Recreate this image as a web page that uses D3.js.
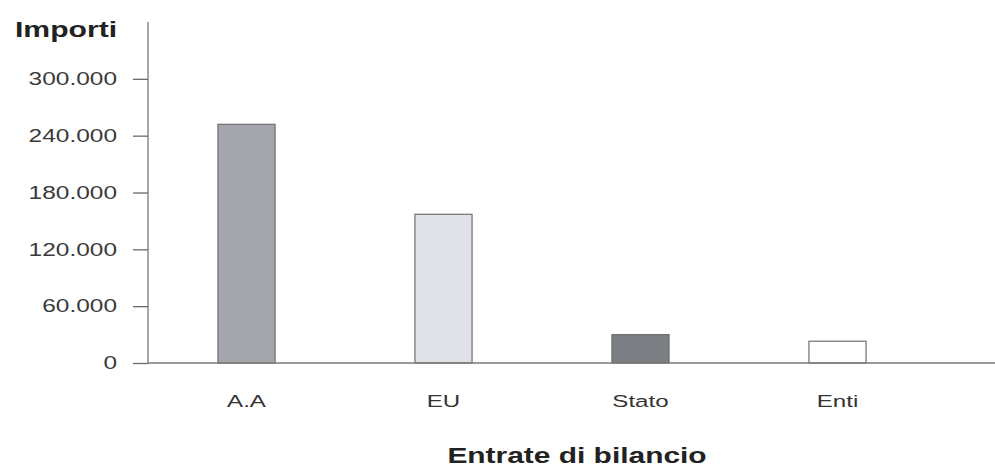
<!DOCTYPE html>
<html><head><meta charset="utf-8">
<script src="https://cdn.jsdelivr.net/npm/d3@7"></script>
<style>body{margin:0;background:#fff}svg{display:block}text{font-family:"Liberation Sans",Arial,sans-serif}</style>
</head><body><svg id="c" width="995" height="468"></svg>
<script>
const categories = ["A.A", "EU", "Stato", "Enti"];
const values = [252000, 157000, 30000, 23000];
const barColors = ["#a3a7ab", "#dfe2e6", "#7b7e83", "#ffffff"];
const yTicks = [0, 60000, 120000, 180000, 240000, 300000];
const yTitle = "Importi";
const xTitle = "Entrate di bilancio";

const svg = d3.select("#c");
const x0 = 148, x1 = 936, yBase = 363, yTop = 22;
const sx = 1.36;
const x = d3.scaleBand().domain(categories).range([x0, x1]).paddingInner(0.71).paddingOuter(0.355);
const y = d3.scaleLinear().domain([0, 360000]).range([yBase, yTop]);
const loc = d3.formatLocale({decimal: ",", thousands: ".", grouping: [3], currency: ["€", ""]});
const fmt = loc.format(",");

// bars
svg.selectAll("rect.bar").data(categories).join("rect")
  .attr("class", "bar")
  .attr("x", d => x(d)).attr("width", x.bandwidth())
  .attr("y", (d, i) => y(values[i])).attr("height", (d, i) => y(0) - y(values[i]))
  .attr("fill", (d, i) => barColors[i])
  .attr("stroke", "#707070").attr("stroke-width", 1.2);

// y axis
const ya = svg.append("g").attr("transform", `translate(${x0},0)`)
  .call(d3.axisLeft(y).tickValues(yTicks).tickFormat(fmt).tickSize(15).tickPadding(31));
ya.select(".domain").attr("stroke", "#8a8a8a").attr("stroke-width", 1.5).attr("d", `M0,${yTop}V${yBase}`);
ya.selectAll(".tick line").attr("stroke", "#6a6a6a").attr("stroke-width", 1.3);
ya.selectAll(".tick text").attr("font-size", 18).attr("fill", "#3a3a3a")
  .attr("x", -31 / sx).attr("transform", `scale(${sx},1)`);

// x axis baseline
svg.append("line").attr("x1", x0).attr("x2", 995).attr("y1", y(0)).attr("y2", y(0))
  .attr("stroke", "#7a7a7a").attr("stroke-width", 1.5);
const xa = svg.append("g").attr("transform", `translate(0,${y(0)})`)
  .call(d3.axisBottom(x).tickSize(0).tickPadding(0));
xa.select(".domain").remove();
xa.selectAll(".tick text").attr("font-size", 17).attr("fill", "#333")
  .attr("dy", null).attr("y", 44).attr("transform", `scale(1.42,1)`);

// titles
svg.append("text").attr("transform", "translate(15,37) scale(1.37,1)")
  .attr("font-size", 22).attr("font-weight", "bold").attr("fill", "#222").text(yTitle);
svg.append("text").attr("transform", "translate(577,463) scale(1.36,1)").attr("text-anchor", "middle")
  .attr("font-size", 22).attr("font-weight", "bold").attr("fill", "#222").text(xTitle);
</script></body></html>
